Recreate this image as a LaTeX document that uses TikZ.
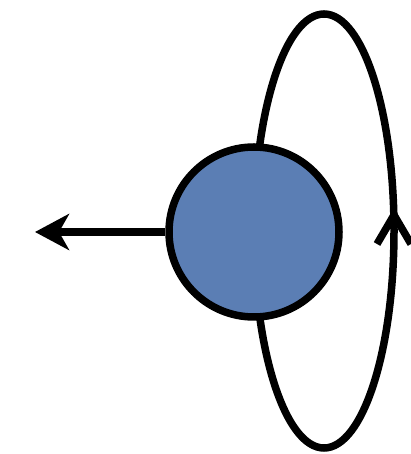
\documentclass[tikz,border=0pt]{standalone}
\usetikzlibrary{arrows.meta}
\definecolor{ballblue}{RGB}{91,126,180}
\tikzset{thick line/.style={line width=7.5pt, draw=black}}
\begin{document}
\begin{tikzpicture}[x=1pt,y=1pt]
\useasboundingbox (0,0) rectangle (411,454);
% orbit ellipse
\draw[thick line] (324,223) ellipse [x radius=70, y radius=217];
% ball
\node[circle, fill=ballblue, draw=black, line width=7.5pt, minimum size=170pt, inner sep=0pt] (ball) at (254,222) {};
% left arrow
\coordinate (lefttip) at (35,222);
\draw[line width=7.5pt, -{Stealth[length=34pt, width=36pt, inset=10pt]}] (ball.west) -- (lefttip);
% chevron on orbit
\coordinate (chevtip) at (394,239);
\coordinate (chevl) at (377,210);
\coordinate (chevr) at (411,210);
\draw[thick line, line join=miter] (chevl) -- (chevtip) -- (chevr);
\end{tikzpicture}
\end{document}
